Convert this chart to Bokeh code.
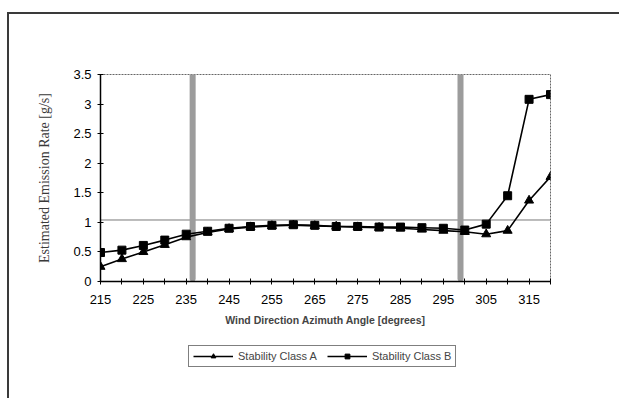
from bokeh.plotting import figure
from bokeh.models import Legend, LegendItem, FixedTicker, Range1d
from bokeh.layouts import column
from bokeh.embed import file_html
from bokeh.resources import INLINE

angles = [215, 220, 225, 230, 235, 240, 245, 250, 255, 260, 265, 270,
          275, 280, 285, 290, 295, 300, 305, 310, 315, 320]
class_a = [0.25, 0.38, 0.50, 0.62, 0.75, 0.83, 0.89, 0.92, 0.94, 0.95, 0.94, 0.93,
           0.92, 0.91, 0.90, 0.88, 0.86, 0.84, 0.80, 0.86, 1.37, 1.77]
class_b = [0.49, 0.53, 0.61, 0.70, 0.80, 0.85, 0.90, 0.93, 0.95, 0.96, 0.95, 0.93,
           0.93, 0.92, 0.92, 0.91, 0.90, 0.87, 0.97, 1.45, 3.08, 3.16]
series_names = ["Stability Class A", "Stability Class B"]
boundary_angles = [236.5, 299.0]
boundary_bottom = 0.05
reference_rate = [1.04]
x_tick_labels = {a: (str(a) if (a - 215) % 10 == 0 else "") for a in angles}
y_ticks = [0, 0.5, 1, 1.5, 2, 2.5, 3, 3.5]
y_tick_labels = {0: "0", 0.5: "0.5", 1: "1", 1.5: "1.5", 2: "2", 2.5: "2.5", 3: "3", 3.5: "3.5"}

BORDER = "#3a3a3a"

p = figure(frame_width=450, frame_height=207, output_backend="svg", toolbar_location=None,
           x_range=Range1d(215, 320), y_range=Range1d(0, 3.5),
           min_border_left=100, min_border_right=69, min_border_top=74, min_border_bottom=59)
p.grid.visible = False
p.background_fill_color = "white"
p.border_fill_color = None
p.outline_line_color = "#666666"
p.outline_line_width = 1
p.outline_line_dash = "2 1"
p.styles = {
    "background": (f"linear-gradient({BORDER}, {BORDER}) 7px 12px / 2px 100% no-repeat, "
                   f"linear-gradient({BORDER}, {BORDER}) 7px 12px / 100% 2px no-repeat, white"),
}

# reference horizontal line
p.segment(x0=[angles[0]], x1=[angles[-1]], y0=reference_rate, y1=reference_rate,
          line_color="#777777", line_width=1)

# boundary vertical bars
p.segment(x0=boundary_angles, x1=boundary_angles,
          y0=[boundary_bottom] * len(boundary_angles), y1=[3.5] * len(boundary_angles),
          line_color="#9c9c9c", line_width=6, line_cap="round")

p.line(angles, class_a, line_color="black", line_width=1.6)
p.scatter(angles, class_a, marker="triangle", size=9, fill_color="black", line_color="black")
p.line(angles, class_b, line_color="black", line_width=1.6)
p.scatter(angles, class_b, marker="square", size=8, fill_color="black", line_color="black")

# axes
p.xaxis.ticker = FixedTicker(ticks=angles)
p.xaxis.major_label_overrides = x_tick_labels
p.xaxis.minor_tick_line_color = None
p.xaxis.major_tick_in = 3
p.xaxis.major_tick_out = 3
p.xaxis.axis_line_width = 1.5
p.xaxis.major_label_text_font = "Liberation Sans"
p.xaxis.major_label_text_font_size = "13px"
p.xaxis.major_label_text_color = "black"
p.xaxis.major_label_standoff = 10
p.xaxis.axis_label = "Wind Direction Azimuth Angle [degrees]"
p.xaxis.axis_label_text_font = "Liberation Sans"
p.xaxis.axis_label_text_font_style = "bold"
p.xaxis.axis_label_text_font_size = "10.5px"
p.xaxis.axis_label_standoff = 7

p.yaxis.ticker = FixedTicker(ticks=y_ticks)
p.yaxis.major_label_overrides = y_tick_labels
p.yaxis.minor_tick_line_color = None
p.yaxis.major_tick_in = 3
p.yaxis.major_tick_out = 3
p.yaxis.axis_line_width = 1.5
p.yaxis.major_label_text_font = "Liberation Sans"
p.yaxis.major_label_text_font_size = "13px"
p.yaxis.major_label_text_color = "black"
p.yaxis.major_label_standoff = 6
p.yaxis.axis_label = "Estimated Emission Rate [g/s]"
p.yaxis.axis_label_text_font = "Liberation Serif"
p.yaxis.axis_label_text_font_style = "normal"
p.yaxis.axis_label_text_font_size = "14px"
p.yaxis.axis_label_text_color = "#3a3a3a"
p.yaxis.axis_label_standoff = 18

# legend strip below the chart; its series lie outside this strip's ranges,
# so only the legend swatches are visible
q = figure(width=619, height=58, output_backend="svg", toolbar_location=None,
           x_range=Range1d(0, 1), y_range=Range1d(0, 1),
           x_axis_location=None, y_axis_location=None,
           min_border_left=0, min_border_right=0, min_border_top=0, min_border_bottom=0)
q.grid.visible = False
q.background_fill_color = None
q.border_fill_color = None
q.outline_line_color = None
q.styles = {
    "background": f"linear-gradient({BORDER}, {BORDER}) 7px 0px / 2px 100% no-repeat, white",
}
qa_l = q.line(angles, class_a, line_color="black", line_width=1.6)
qa_s = q.scatter(angles, class_a, marker="triangle", size=9, fill_color="black", line_color="black")
qb_l = q.line(angles, class_b, line_color="black", line_width=1.6)
qb_s = q.scatter(angles, class_b, marker="square", size=8, fill_color="black", line_color="black")

legend = Legend(items=[LegendItem(label=series_names[0], renderers=[qa_l, qa_s]),
                       LegendItem(label=series_names[1], renderers=[qb_l, qb_s])],
                orientation="horizontal", location=(88, 31))
legend.label_text_font = "Liberation Sans"
legend.label_text_font_size = "11px"
legend.border_line_color = "black"
legend.border_line_width = 1
legend.background_fill_color = "white"
legend.padding = 4
legend.margin = 0
legend.spacing = 10
legend.glyph_width = 40
legend.glyph_height = 12
legend.label_standoff = 5
legend.label_height = 12
q.add_layout(legend, "center")

layout = column(p, q, spacing=0)
open("out.html", "w").write(file_html(layout, INLINE))
